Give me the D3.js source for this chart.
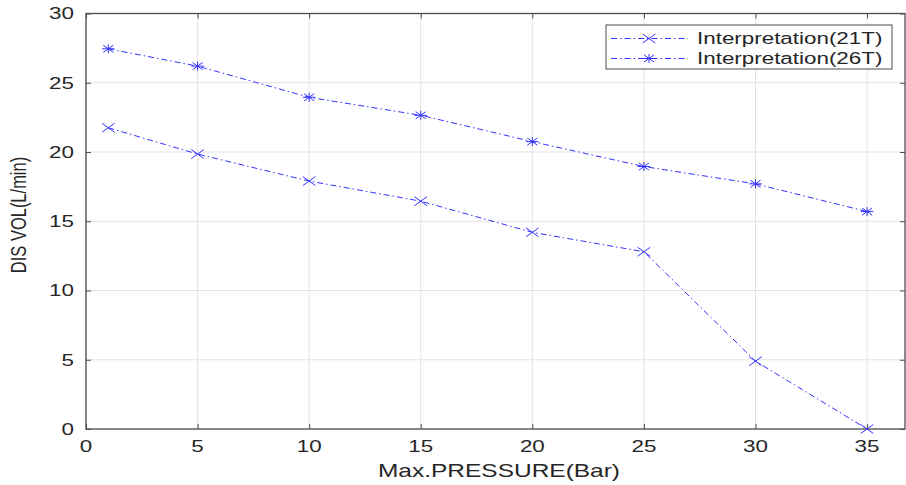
<!DOCTYPE html>
<html>
<head>
<meta charset="utf-8">
<script src="https://cdn.jsdelivr.net/npm/d3@7"></script>
<style>
  body { margin: 0; background: #fff; }
  text { font-family: "Liberation Sans", Arial, sans-serif; fill: #262626; }
</style>
</head>
<body>
<div id="chart"></div>
<script>
// data
let pressure = [1, 5, 10, 15, 20, 25, 30, 35];
let vol21T = [21.75, 19.85, 17.9, 16.45, 14.2, 12.8, 4.9, 0];
let vol26T = [27.45, 26.2, 23.95, 22.65, 20.75, 18.95, 17.7, 15.7];
let seriesNames = ["Interpretation(21T)", "Interpretation(26T)"];
let xTicks = [0, 5, 10, 15, 20, 25, 30, 35];
let yTicks = [0, 5, 10, 15, 20, 25, 30];

let W = 906, H = 485;
let margin = { top: 13.5, left: 86, right: 1, bottom: 56 };
let width = W - margin.left - margin.right,
    height = H - margin.top - margin.bottom;
// the source image is stretched horizontally, text and markers follow it
let sx = 1.4;

let x = d3.scaleLinear().domain([0, 36.7]).range([0, width]);
let y = d3.scaleLinear().domain([0, 30]).range([height, 0]);

let svg = d3.select("#chart").append("svg")
  .attr("width", W).attr("height", H);
let g = svg.append("g")
  .attr("transform", "translate(" + margin.left + "," + margin.top + ")");

// grid
g.append("g").selectAll("line").data(xTicks).enter().append("line")
  .attr("x1", d => x(d)).attr("x2", d => x(d))
  .attr("y1", 0).attr("y2", height)
  .attr("stroke", "#e3e3e3").attr("stroke-width", 1);
g.append("g").selectAll("line").data(yTicks).enter().append("line")
  .attr("x1", 0).attr("x2", width)
  .attr("y1", d => y(d)).attr("y2", d => y(d))
  .attr("stroke", "#e3e3e3").attr("stroke-width", 1);

// axes, MATLAB style: ticks pointing inward on all four sides
let axisColor = "#4d4d4d";
function styleAxis(sel) {
  sel.select(".domain").remove();
  sel.selectAll(".tick line").attr("stroke", axisColor);
}
g.append("g").attr("transform", "translate(0," + height + ")")
  .call(d3.axisBottom(x).tickValues(xTicks).tickSize(-5).tickFormat(""))
  .call(styleAxis);
g.append("g")
  .call(d3.axisTop(x).tickValues(xTicks).tickSize(-5).tickFormat(""))
  .call(styleAxis);
g.append("g")
  .call(d3.axisLeft(y).tickValues(yTicks).tickSize(-5).tickFormat(""))
  .call(styleAxis);
g.append("g").attr("transform", "translate(" + width + ",0)")
  .call(d3.axisRight(y).tickValues(yTicks).tickSize(-5).tickFormat(""))
  .call(styleAxis);

// tick labels (stretched like the source)
g.append("g").selectAll("text").data(xTicks).enter().append("text")
  .attr("transform", d => "translate(" + x(d) + "," + (height + 23) + ") scale(" + sx + ",1)")
  .attr("text-anchor", "middle").style("font-size", "16px")
  .text(d => d);
g.append("g").selectAll("text").data(yTicks).enter().append("text")
  .attr("transform", d => "translate(-12," + y(d) + ") scale(" + sx + ",1)")
  .attr("text-anchor", "end").attr("dy", "0.36em").style("font-size", "16px")
  .text(d => d);

g.append("rect")
  .attr("x", 0).attr("y", 0).attr("width", width).attr("height", height)
  .attr("fill", "none").attr("stroke", axisColor).attr("stroke-width", 1.3);

// axis titles
svg.append("text")
  .attr("transform", "translate(499,476.5) scale(" + sx + ",1)")
  .attr("text-anchor", "middle").style("font-size", "17.5px")
  .text("Max.PRESSURE(Bar)");
svg.append("text")
  .attr("transform", "translate(26,215) scale(1.35,1) rotate(-90)")
  .attr("text-anchor", "middle").style("font-size", "16.5px")
  .text("DIS VOL(L/min)");

// series
let lineColor = "#3333ff";
let dash = "6,3,1.5,3";
let line = d3.line().x(d => x(d[0])).y(d => y(d[1]));

function crossMarker(sel, s) {
  sel.append("path")
    .attr("d", "M" + -s + "," + -s + "L" + s + "," + s + "M" + -s + "," + s + "L" + s + "," + -s)
    .attr("stroke", lineColor).attr("stroke-width", 1).attr("fill", "none")
    .attr("vector-effect", "non-scaling-stroke");
}
function starMarker(sel, s) {
  let d = s * 0.8;
  sel.append("path")
    .attr("d", "M" + -s + ",0L" + s + ",0M0," + -s + "L0," + s +
      "M" + -d + "," + -d + "L" + d + "," + d + "M" + -d + "," + d + "L" + d + "," + -d)
    .attr("stroke", lineColor).attr("stroke-width", 1).attr("fill", "none")
    .attr("vector-effect", "non-scaling-stroke");
}

let series = [
  { name: seriesNames[0], values: vol21T, marker: crossMarker },
  { name: seriesNames[1], values: vol26T, marker: starMarker }
];

series.forEach(function(s) {
  let pts = pressure.map((p, i) => [p, s.values[i]]);
  g.append("path").datum(pts)
    .attr("d", line)
    .attr("fill", "none").attr("stroke", lineColor)
    .attr("stroke-width", 1).attr("stroke-dasharray", dash);
  g.append("g").selectAll("g").data(pts).enter().append("g")
    .attr("transform", d => "translate(" + x(d[0]) + "," + y(d[1]) + ") scale(" + sx + ",1)")
    .each(function() { s.marker(d3.select(this), 4.5); });
});

// legend
let lg = svg.append("g").attr("transform", "translate(606,25)");
lg.append("rect")
  .attr("x", 0).attr("y", 0).attr("width", 286).attr("height", 44)
  .attr("fill", "#fff").attr("stroke", axisColor).attr("stroke-width", 1);
series.forEach(function(s, i) {
  let yy = 13.5 + i * 20;
  lg.append("line")
    .attr("x1", 5).attr("x2", 82).attr("y1", yy).attr("y2", yy)
    .attr("stroke", lineColor).attr("stroke-width", 1).attr("stroke-dasharray", dash);
  let m = lg.append("g").attr("transform", "translate(43," + yy + ") scale(" + sx + ",1)");
  s.marker(m, 4.5);
  lg.append("text")
    .attr("transform", "translate(91," + yy + ") scale(" + sx + ",1)")
    .attr("dy", "0.36em")
    .style("font-size", "16px").text(s.name);
});
</script>
</body>
</html>
